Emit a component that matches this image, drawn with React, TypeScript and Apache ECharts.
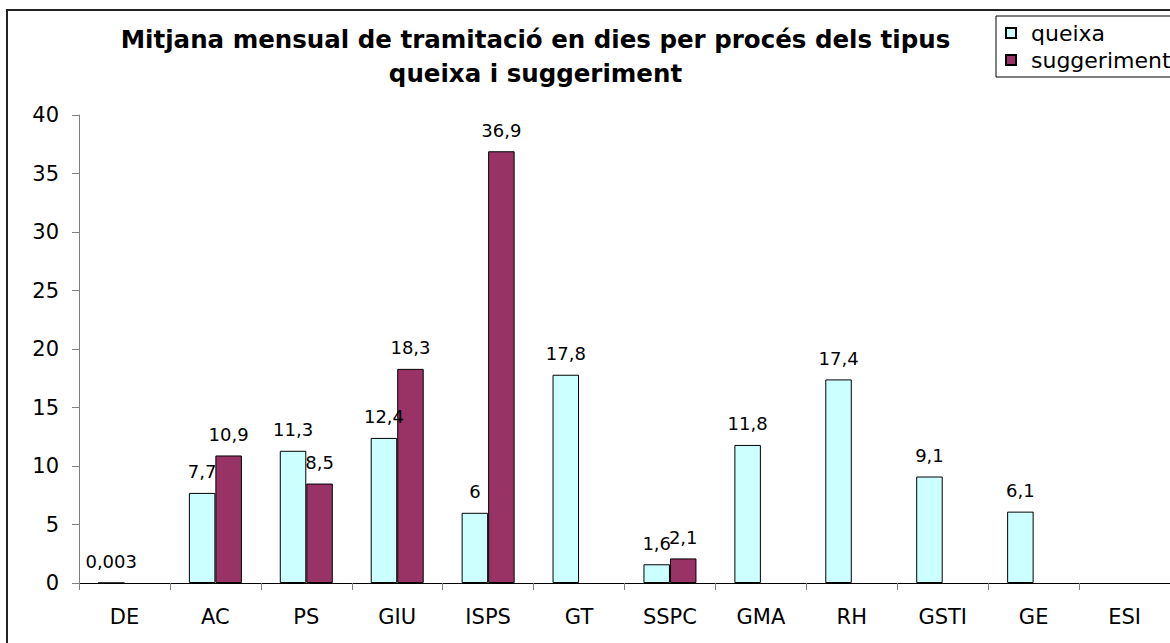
import React, { useEffect, useRef } from "react";
import * as echarts from "echarts";

const categories = ["DE", "AC", "PS", "GIU", "ISPS", "GT", "SSPC", "GMA", "RH", "GSTI", "GE", "ESI"];
const queixa = [0.003, 7.7, 11.3, 12.4, 6, 17.8, 1.6, 11.8, 17.4, 9.1, 6.1, null];
const suggeriment = [null, 10.9, 8.5, 18.3, 36.9, null, 2.1, null, null, null, null, null];
const titleLines = ["Mitjana mensual de tramitació en dies per procés dels tipus", "queixa i suggeriment"];

const FONT = "'DejaVu Sans', 'Liberation Sans', Arial, sans-serif";

export default function App() {
  const ref = useRef<HTMLDivElement>(null);
  useEffect(() => {
    if (!ref.current) return;
    const chart = echarts.init(ref.current, null, { renderer: "svg" });
    const fmt = (p: any) => String(p.value).replace(".", ",");
    const label = {
      show: true,
      position: "top",
      distance: 12,
      color: "#000",
      fontSize: 18,
      fontFamily: FONT,
      formatter: fmt,
    };
    chart.setOption({
      animation: false,
      backgroundColor: "#fff",
      textStyle: { fontFamily: FONT },
      grid: { left: 79, top: 115, width: 1095, height: 468, containLabel: false },
      legend: {
        orient: "vertical",
        left: 996,
        top: 16,
        icon: "rect",
        itemWidth: 10,
        itemHeight: 10,
        itemGap: 5,
        padding: [6, 12, 6, 9],
        borderColor: "#000",
        borderWidth: 1,
        borderRadius: 0,
        textStyle: { fontSize: 22, lineHeight: 22, color: "#000", fontFamily: FONT, padding: [0, 0, 0, 10] },
        data: ["queixa", "suggeriment"],
      },
      xAxis: {
        type: "category",
        data: categories,
        axisLine: { lineStyle: { color: "#000", width: 1 } },
        axisTick: { show: true, alignWithLabel: false, length: 7, lineStyle: { color: "#808080" } },
        axisLabel: { color: "#000", fontSize: 21, margin: 23, fontFamily: FONT },
      },
      yAxis: {
        type: "value",
        min: 0,
        max: 40,
        interval: 5,
        axisLine: { show: true, lineStyle: { color: "#808080" } },
        axisTick: { show: true, length: 7, lineStyle: { color: "#808080" } },
        axisLabel: { color: "#000", fontSize: 21, margin: 20, fontFamily: FONT },
        splitLine: { show: false },
      },
      series: [
        {
          name: "queixa",
          type: "bar",
          data: queixa,
          barWidth: 26.5,
          barGap: "0%",
          itemStyle: { color: "#CCFFFF", borderColor: "#000", borderWidth: 1 },
          label,
        },
        {
          name: "suggeriment",
          type: "bar",
          data: suggeriment,
          barWidth: 26.5,
          barGap: "0%",
          itemStyle: { color: "#993366", borderColor: "#000", borderWidth: 1 },
          label,
        },
      ],
      graphic: [
        {
          type: "rect",
          shape: { x: 7, y: 10, width: 1200, height: 700 },
          style: { fill: "none", stroke: "#222", lineWidth: 2 },
          silent: true,
        },
        {
          type: "text",
          x: 535.5,
          y: 39.5,
          style: {
            text: titleLines[0],
            fill: "#000",
            font: `bold 24.5px ${FONT}`,
            align: "center",
            verticalAlign: "middle",
          },
        },
        {
          type: "text",
          x: 535.5,
          y: 73.5,
          style: {
            text: titleLines[1],
            fill: "#000",
            font: `bold 24.5px ${FONT}`,
            align: "center",
            verticalAlign: "middle",
          },
        },
      ],
    });
    return () => chart.dispose();
  }, []);
  return (
    <div
      ref={ref}
      style={{ position: "absolute", left: 0, top: 0, width: 1170, height: 643, overflow: "hidden" }}
    />
  );
}
